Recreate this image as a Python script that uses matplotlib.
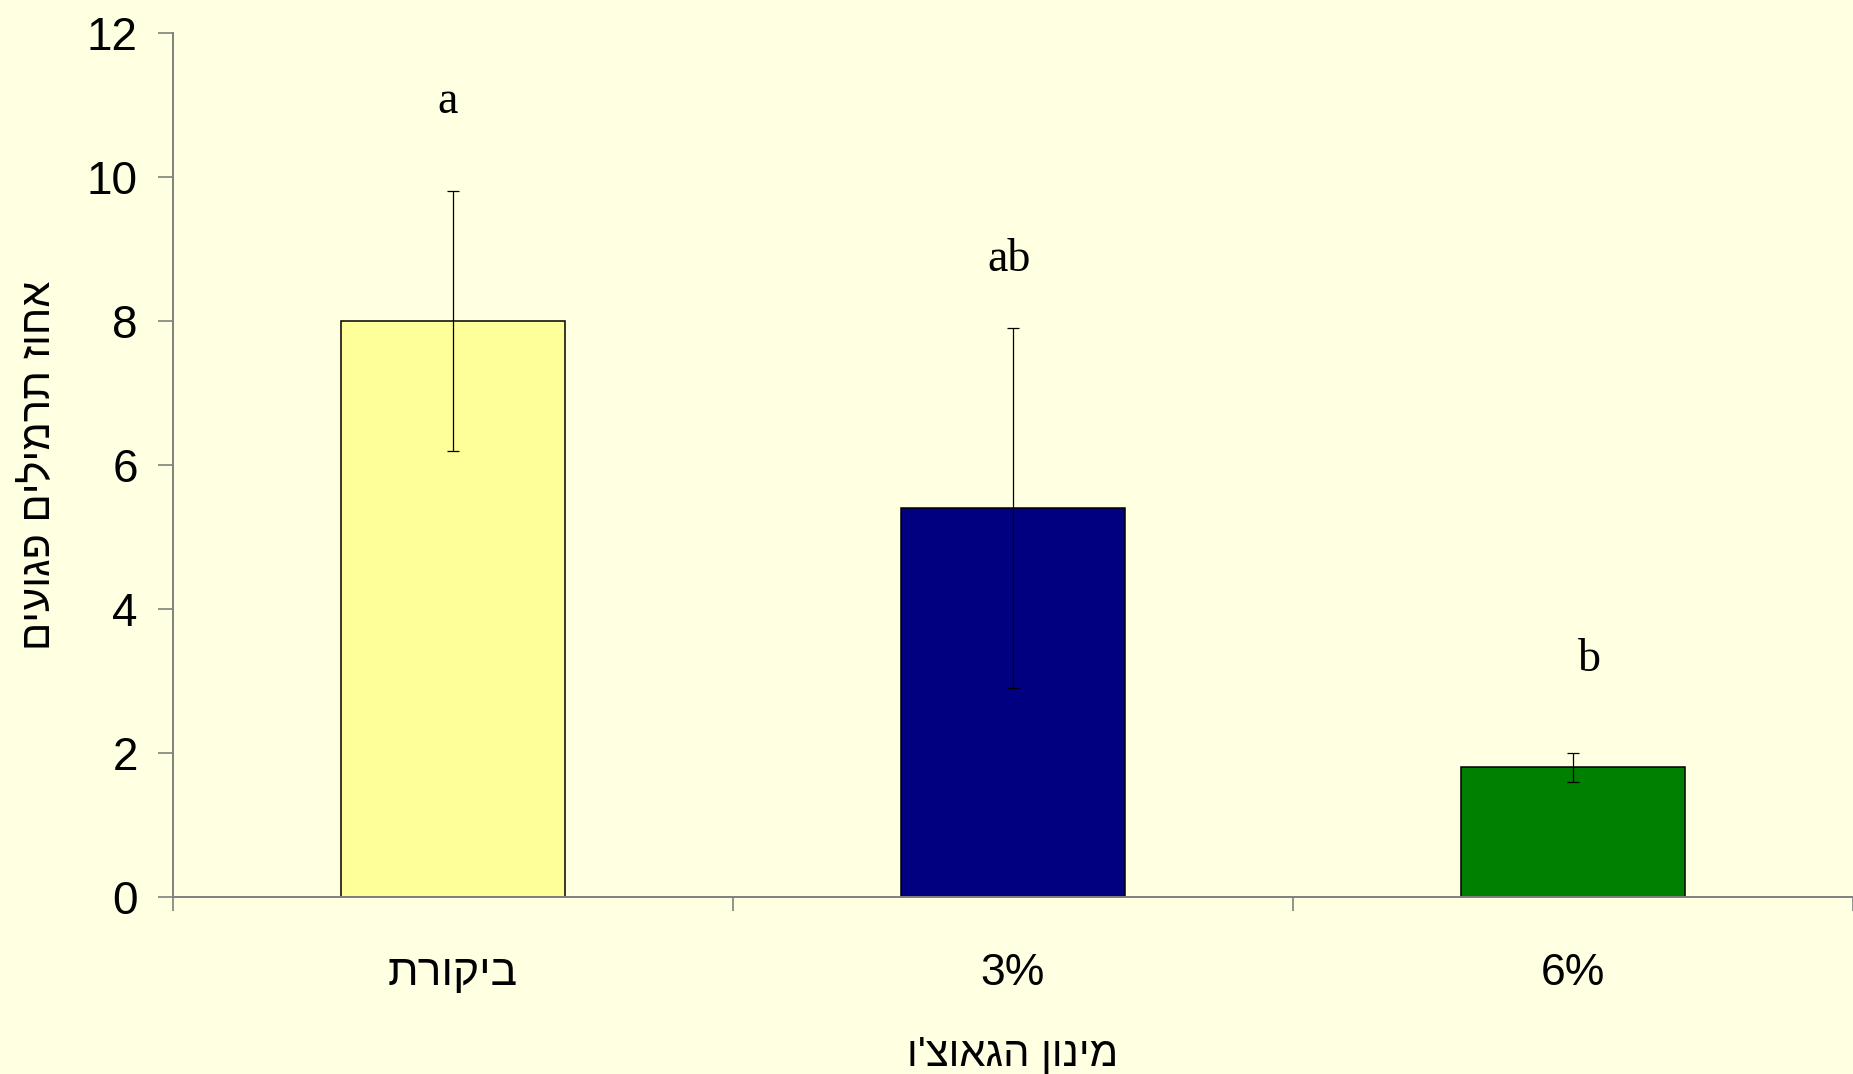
import numpy as np
import matplotlib.pyplot as plt

# data
categories = ["ביקורת", "3%", "6%"]
means = [8.0, 5.4, 1.8]
errors = [1.8, 2.5, 0.2]
letters = ["a", "ab", "b"]
letter_y = [11.05, 8.85, 3.3]
letter_dx = [-0.009, -0.007, 0.03]
colors = ["#FFFF99", "#000080", "#008000"]

ylabel = "אחוז תרמילים פגועים"
xlabel = "מינון הגאוצ'ו"


def rtl(s):
    # matplotlib has no bidi support, flip hebrew runs by hand
    if any('\u0590' <= ch <= '\u05FF' for ch in s):
        return s[::-1]
    return s


bg = "#FFFFE1"
sans = ["Liberation Sans", "DejaVu Sans"]
serif = ["Liberation Serif", "DejaVu Serif"]

fig = plt.figure(figsize=(18.53, 10.74), dpi=100, facecolor=bg)
ax = fig.add_axes([0.0931, 0.1648, 1 - 0.0931, 0.8045])
ax.set_facecolor(bg)

x = np.arange(len(categories))
ax.bar(x, means, width=0.4, color=colors, edgecolor="black", linewidth=1.1, zorder=2)
ax.errorbar(x, means, yerr=errors, fmt="none", ecolor="black", elinewidth=0.9,
            capsize=4.5, capthick=0.9, zorder=3)

for i in range(len(letters)):
    ax.text(x[i] + letter_dx[i], letter_y[i], letters[i], ha="center", va="center",
            fontsize=33, family=serif)

ax.set_xlim(-0.5, 2.486)
ax.set_ylim(0, 12)
ax.set_yticks(np.arange(0, 13, 2))
ax.set_yticklabels([str(v) for v in range(0, 13, 2)], fontsize=33, family=sans)

ax.set_xticks(x)
ax.set_xticklabels([rtl(c) for c in categories], fontsize=32, family=sans)
ax.set_xticks([-0.5, 0.5, 1.5, 2.5], minor=True)
ax.tick_params(axis="x", which="major", length=0, pad=40)
ax.tick_params(axis="x", which="minor", length=10, width=1.2, color="#808080")
ax.tick_params(axis="y", length=11, width=1.2, color="#808080", pad=14)

for s in ["top", "right"]:
    ax.spines[s].set_visible(False)
for s in ["left", "bottom"]:
    ax.spines[s].set_color("#808080")
    ax.spines[s].set_linewidth(1.4)

ax.set_ylabel(rtl(ylabel), fontsize=30, family=sans, labelpad=20)
ax.set_xlabel(rtl(xlabel), fontsize=30, family=sans, labelpad=30)

fig.savefig("out.png", dpi=100, facecolor=bg)
